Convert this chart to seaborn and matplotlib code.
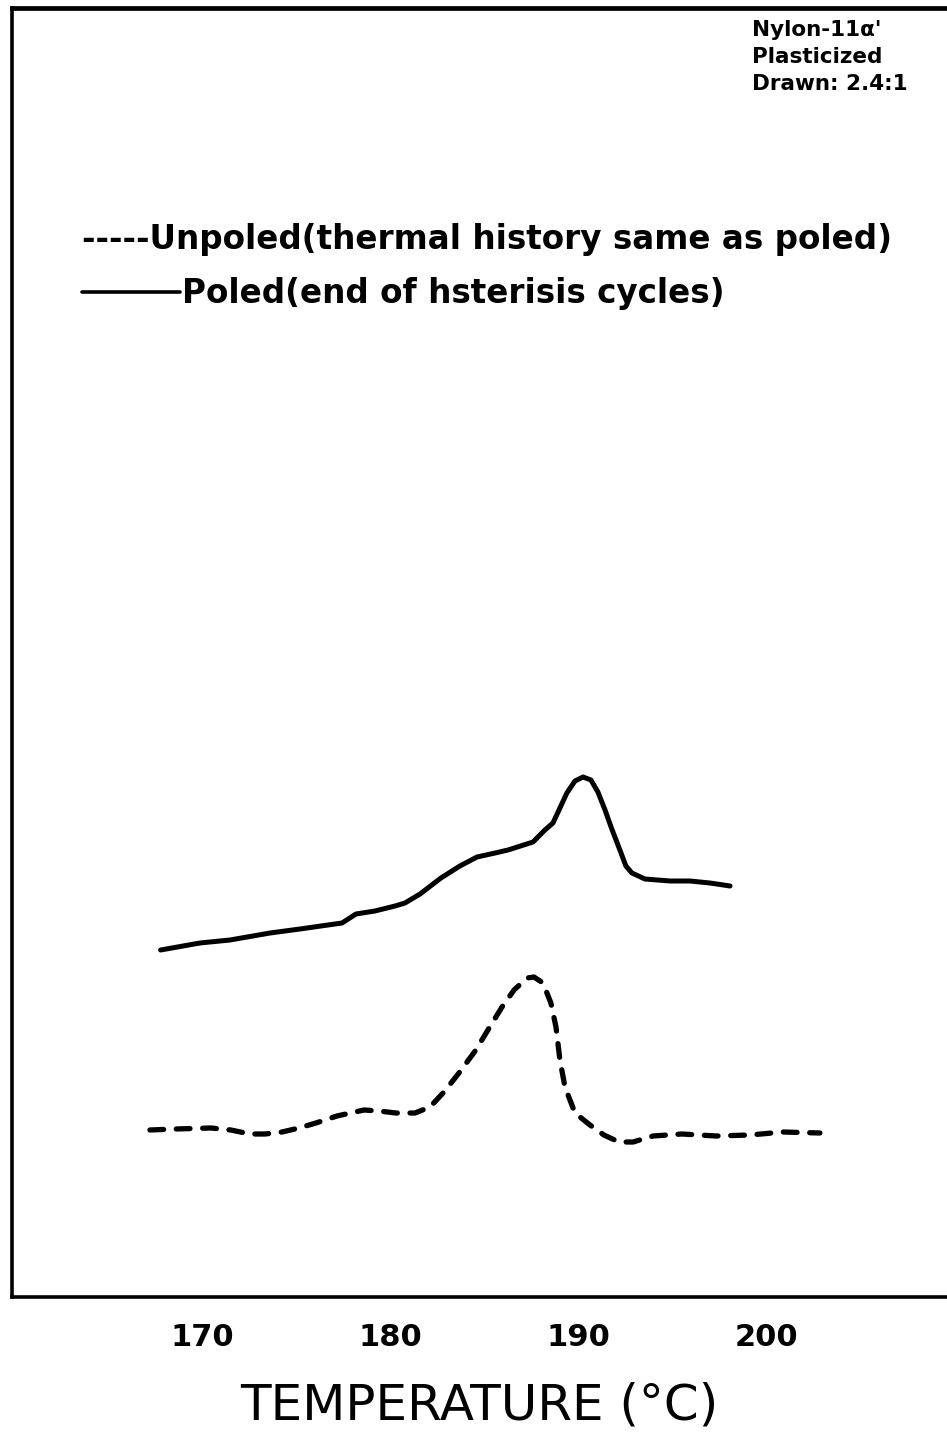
import matplotlib
matplotlib.use("Agg")
import matplotlib.pyplot as plt
from matplotlib.lines import Line2D
import seaborn as sns
import pandas as pd

# ---- data ----
poled_T = [167.80, 169.89, 171.49, 173.62, 175.21, 177.45, 178.19, 179.20, 180.27, 180.80,
           181.60, 182.71, 183.72, 184.63, 185.59, 186.28, 187.61, 188.24, 188.67, 189.04,
           189.41, 189.84, 190.27, 190.69, 191.06, 191.44, 191.76, 192.23, 192.55, 192.87,
           193.56, 194.89, 195.96, 197.02, 198.09]
poled_y = [34.7, 35.4, 35.7, 36.4, 36.8, 37.4, 38.3, 38.6, 39.1, 39.4,
           40.3, 41.9, 43.1, 44.0, 44.4, 44.7, 45.5, 46.7, 47.4, 48.9,
           50.4, 51.6, 52.0, 51.7, 50.5, 48.7, 47.0, 44.7, 43.1, 42.4,
           41.8, 41.6, 41.6, 41.4, 41.1]

unpoled_T = [167.23, 168.56, 170.48, 171.54, 172.55, 173.35, 174.26, 175.16, 176.06, 177.18,
             178.62, 179.41, 180.32, 181.33, 182.13, 182.87, 183.67, 184.57, 185.21, 185.96,
             186.60, 187.29, 187.66, 188.14, 188.56, 188.83, 189.04, 189.31, 189.84, 190.64,
             191.38, 192.18, 192.93, 193.99, 195.53, 197.34, 199.15, 200.90, 202.87]
unpoled_y = [16.7, 16.8, 16.9, 16.7, 16.3, 16.3, 16.5, 16.9, 17.4, 18.1,
             18.7, 18.6, 18.4, 18.4, 19.0, 20.5, 22.4, 24.7, 26.7, 29.0,
             30.7, 31.9, 32.0, 31.4, 29.4, 27.0, 23.7, 21.0, 18.4, 17.2,
             16.2, 15.5, 15.5, 16.1, 16.3, 16.1, 16.2, 16.5, 16.4]

xticks = [170, 180, 190, 200]
xtick_labels = ["170", "180", "190", "200"]

df_poled = pd.DataFrame({"T": poled_T, "y": poled_y})
df_unpoled = pd.DataFrame({"T": unpoled_T, "y": unpoled_y})

sns.set_style("white")
plt.rcParams["font.family"] = ["DejaVu Sans"]
plt.rcParams["text.color"] = "black"
plt.rcParams["axes.labelcolor"] = "black"

W, H = 947, 1435
fig = plt.figure(figsize=(W / 100, H / 100), dpi=100)
ax = fig.add_axes([12 / W, 1 - 1297 / H, 1 - 12 / W, (1297 - 8) / H])

sns.lineplot(data=df_poled, x="T", y="y", ax=ax, color="black", lw=3.6,
             sort=False, estimator=None, solid_joinstyle="round", solid_capstyle="round")
sns.lineplot(data=df_unpoled, x="T", y="y", ax=ax, color="black", lw=3.8,
             sort=False, estimator=None, linestyle=(0, (2.6, 2.4)), dash_capstyle="round")

ax.set_xlim(159.894, 209.63)
ax.set_ylim(0, 128.9)
ax.set_yticks([])
ax.set_xticks(xticks)
ax.set_xticklabels(xtick_labels, fontsize=22, fontweight="bold", color="black")
ax.tick_params(axis="x", direction="in", length=12, width=1.6, pad=19, colors="black")
ax.set_xlabel("TEMPERATURE (°C)", fontsize=36, labelpad=21, color="black")
ax.set_ylabel("")

for s in ["left", "top", "bottom"]:
    ax.spines[s].set_visible(True)
    ax.spines[s].set_color("black")
ax.spines["left"].set_linewidth(2.6)
ax.spines["top"].set_linewidth(3.4)
ax.spines["bottom"].set_linewidth(2.6)
ax.spines["right"].set_visible(False)

# annotation block top right
for i, t in enumerate(["Nylon-11α'", "Plasticized", "Drawn: 2.4:1"]):
    fig.text(752 / W, 1 - (30 + 27 * i) / H, t, fontsize=15.5, ha="left", va="center",
             fontweight="bold", color="black")

# legend-like keys
fig.text(82 / W, 1 - 240 / H, "-----Unpoled(thermal history same as poled)",
         fontsize=23.5, ha="left", va="center", fontweight="bold", color="black")
fig.add_artist(Line2D([82 / W, 180 / W], [1 - 292 / H, 1 - 292 / H], lw=2.6, color="black"))
fig.text(182 / W, 1 - 293 / H, "Poled(end of hsterisis cycles)",
         fontsize=23.5, ha="left", va="center", fontweight="bold", color="black")

fig.savefig("out.png", dpi=100)
